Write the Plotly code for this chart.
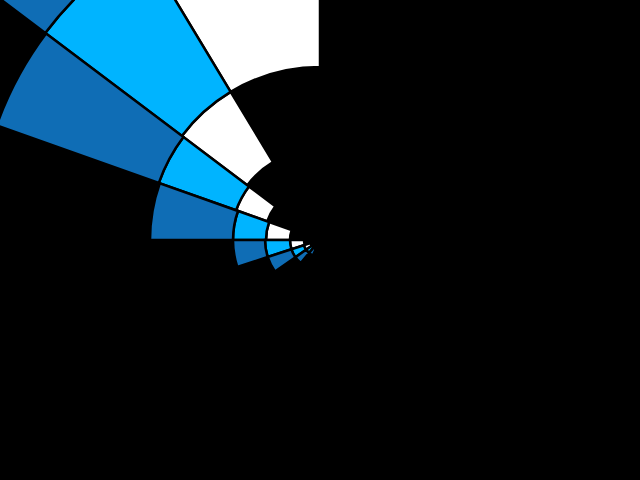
import plotly.graph_objects as go

# angular position (centre, degrees, counter-clockwise from east) and angular width of each wedge
theta_deg = [105.55, 132.05, 151.75, 170.25, 189.0, 206.5, 222.5, 237.5, 252.0]
widths = [31.1, 21.9, 17.5, 19.5, 18.0, 17.0, 15.0, 15.0, 14.0]

# radial boundaries of each wedge (inner edge of white, then outer edges of white, light blue, dark blue)
inner_edge = [17.3, 9.1, 5.6, 3.0, 1.6, 1.0, 0.6, 0.35, 0.2]
white_outer = [34.4, 17.3, 8.9, 5.4, 3.0, 1.7, 1.0, 0.6, 0.35]
light_outer = [69.0, 34.4, 17.1, 8.7, 5.5, 3.0, 1.7, 1.0, 0.6]
dark_outer = [100.0, 69.0, 34.3, 17.0, 8.7, 5.5, 3.0, 1.7, 1.0]

colors = ["#ffffff", "#00b4ff", "#0f6db5"]
layers = [
    (inner_edge, white_outer),
    (white_outer, light_outer),
    (light_outer, dark_outer),
]

fig = go.Figure()
for (lo, hi), col in zip(layers, colors):
    fig.add_trace(go.Barpolar(
        theta=theta_deg,
        width=widths,
        base=lo,
        r=[h - l for l, h in zip(lo, hi)],
        marker=dict(color=col, line=dict(color="black", width=2.5)),
        hoverinfo="skip",
    ))

# helper trace so the polar area does not clip the bars that reach beyond it
fig.add_trace(go.Scatterpolar(r=[0, 0], theta=[0, 90], mode="lines",
                              line=dict(width=0, color="black"), cliponaxis=False,
                              hoverinfo="skip"))

fig.update_layout(
    width=640, height=480,
    margin=dict(l=0, r=0, t=0, b=0),
    paper_bgcolor="black",
    showlegend=False,
    polar=dict(
        bgcolor="black",
        barmode="overlay",
        domain=dict(x=[0, 1], y=[0, 1]),
        radialaxis=dict(range=[0, 24], visible=False),
        angularaxis=dict(visible=False, rotation=0, direction="counterclockwise"),
    ),
)

post = """
document.body.style.margin = '0';
document.body.style.background = 'black';
var gd = document.getElementById('{plot_id}');
gd.querySelectorAll('.frontplot').forEach(function(el) { el.removeAttribute('clip-path'); el.style.clipPath = 'none'; });
"""

fig.write_html("out.html", post_script=post, config={"displayModeBar": False})
